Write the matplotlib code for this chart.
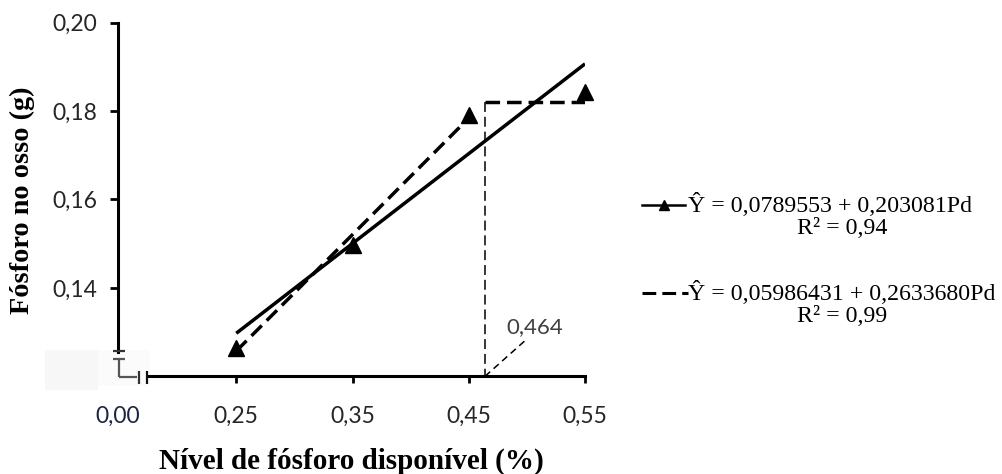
import matplotlib
matplotlib.use("Agg")
import matplotlib.pyplot as plt
from matplotlib.lines import Line2D
from matplotlib.patches import Rectangle
import numpy as np

# ---- data ----
x_levels = [0.25, 0.35, 0.45, 0.55]
y_observed = [0.1265, 0.1496, 0.1790, 0.1843]
lin_a, lin_b = 0.0789553, 0.203081          # linear model
lrp_a, lrp_b = 0.05986431, 0.2633680        # linear response plateau
break_point = 0.464
x_tick_vals = [0.25, 0.35, 0.45, 0.55]
x_tick_labels = ["0,25", "0,35", "0,45", "0,55"]
y_tick_vals = [0.14, 0.16, 0.18, 0.20]
y_tick_labels = ["0,14", "0,16", "0,18", "0,20"]
origin_label = "0,00"

W, H = 1003, 474
fig = plt.figure(figsize=(W / 100, H / 100), dpi=100)

def fx(px):
    return px / W

def fy(py):
    return 1 - py / H

# axes geometry (pixel based)
ax_left, ax_right, ax_top, ax_bottom = 118, 585, 22.5, 376.3
ax = fig.add_axes([fx(ax_left), fy(ax_bottom), (ax_right - ax_left) / W, (ax_bottom - ax_top) / H])
x0 = 0.25 - (236 - ax_left) / 1160.0
ax.set_xlim(x0, 0.55)
ax.set_ylim(0.12, 0.20)

serif = "Liberation Serif"
sans = "Lato"
tick_color = "#262626"

# light grey background patches around the axis break
fig.add_artist(Rectangle((fx(45), fy(390)), (98 - 45) / W, 40 / H, transform=fig.transFigure,
                         facecolor="#f7f7f7", edgecolor="none", zorder=0))
fig.add_artist(Rectangle((fx(98), fy(386)), (150 - 98) / W, 36 / H, transform=fig.transFigure,
                         facecolor="#fbfbfb", edgecolor="none", zorder=0))
ax.patch.set_alpha(0)

# lines
lw = 2.5
xl = np.array([x_levels[0], x_levels[-1]])
ax.plot(xl, lin_a + lin_b * xl, color="black", lw=lw, solid_capstyle="butt", zorder=3)

plateau = lrp_a + lrp_b * break_point
xs = np.array([x_levels[0], x_levels[2]])
ax.plot(xs, lrp_a + lrp_b * xs, color="black", lw=lw, dashes=(4.2, 2.0), zorder=3)
ax.plot([break_point, x_levels[-1]], [plateau, plateau], color="black", lw=lw,
        dashes=(4.2, 2.0), zorder=3)

# thin dashed guide lines
ax.plot([break_point, break_point], [plateau, 0.12], color="black", lw=1.1,
        dashes=(6.5, 3.2), zorder=2, clip_on=False)
ax.plot([break_point, 0.499], [0.12, 0.1282], color="black", lw=1.1,
        dashes=(4.5, 3.0), zorder=2, clip_on=False)
ax.text(0.482, 0.1311, "0,464", fontsize=16, family=sans, color="#404040",
        ha="left", va="center")

# observed points
ax.plot(x_levels, y_observed, linestyle="none", marker="^", markersize=11,
        color="black", zorder=4, clip_on=False)

# spines
for s in ["top", "right"]:
    ax.spines[s].set_visible(False)
ax.spines["left"].set_linewidth(2.2)
ax.spines["bottom"].set_linewidth(2.2)
ax.spines["left"].set_bounds(0.1256, 0.20)
x_axis_start = 0.25 - (236 - 148) / 1160.0
ax.spines["bottom"].set_bounds(x_axis_start, 0.55)

ax.set_yticks(y_tick_vals)
ax.set_yticklabels(y_tick_labels)
ax.set_xticks([x0] + x_tick_vals)
ax.set_xticklabels([origin_label] + x_tick_labels)
ax.tick_params(axis="y", length=6, width=2.0, pad=9, labelsize=16.5, labelcolor=tick_color)
ax.tick_params(axis="x", length=5, width=2.0, pad=16, labelsize=16.5, labelcolor=tick_color)
for lab in ax.get_xticklabels() + ax.get_yticklabels():
    lab.set_family(sans)
ax.get_xticklabels()[0].set_color("#1c2540")
ax.xaxis.get_major_ticks()[0].tick1line.set_visible(False)

# axis break marks (pixel coordinates)
def seg(xs_, ys_, color="#555555", lw_=1.6):
    fig.add_artist(Line2D([fx(v) for v in xs_], [fy(v) for v in ys_],
                          transform=fig.transFigure, color=color, lw=lw_,
                          solid_capstyle="butt"))

seg([113, 125], [351, 351], color="#333333", lw_=1.6)
seg([113, 125], [359, 359])
seg([119, 119], [359, 377])
seg([119, 137], [377, 377])
seg([139.5, 139.5], [371, 384], color="#333333")
seg([147, 147], [371, 384], color="#111111")

# axis titles
fig.text(fx(351), fy(461), "Nível de fósforo disponível (%)", family=serif,
         fontweight="bold", fontsize=21, ha="center", va="center")
fig.text(fx(22), fy(200), "Fósforo no osso (g)", family=serif, fontweight="bold",
         fontsize=20.3, ha="center", va="center", rotation=90)

# legend (drawn manually)
fig.add_artist(Line2D([fx(642), fx(685)], [fy(205), fy(205)], transform=fig.transFigure,
                      color="black", lw=1.8))
fig.add_artist(Line2D([fx(664)], [fy(205)], transform=fig.transFigure, color="black",
                      marker="^", markersize=7, linestyle="none"))
fig.add_artist(Line2D([fx(642), fx(688)], [fy(293), fy(293)], transform=fig.transFigure,
                      color="black", lw=2.2, dashes=(4.5, 2.0)))

leg_fs = 17.2
fig.text(fx(688), fy(205), "Ŷ = 0,0789553 + 0,203081Pd", family=serif, fontsize=leg_fs,
         ha="left", va="center")
fig.text(fx(842), fy(229), "R² = 0,94", family=serif, fontsize=leg_fs, ha="center", va="center")
fig.text(fx(688), fy(293), "Ŷ = 0,05986431 + 0,2633680Pd", family=serif, fontsize=leg_fs,
         ha="left", va="center")
fig.text(fx(842), fy(316), "R² = 0,99", family=serif, fontsize=leg_fs, ha="center", va="center")

fig.savefig("out.png", dpi=100)
